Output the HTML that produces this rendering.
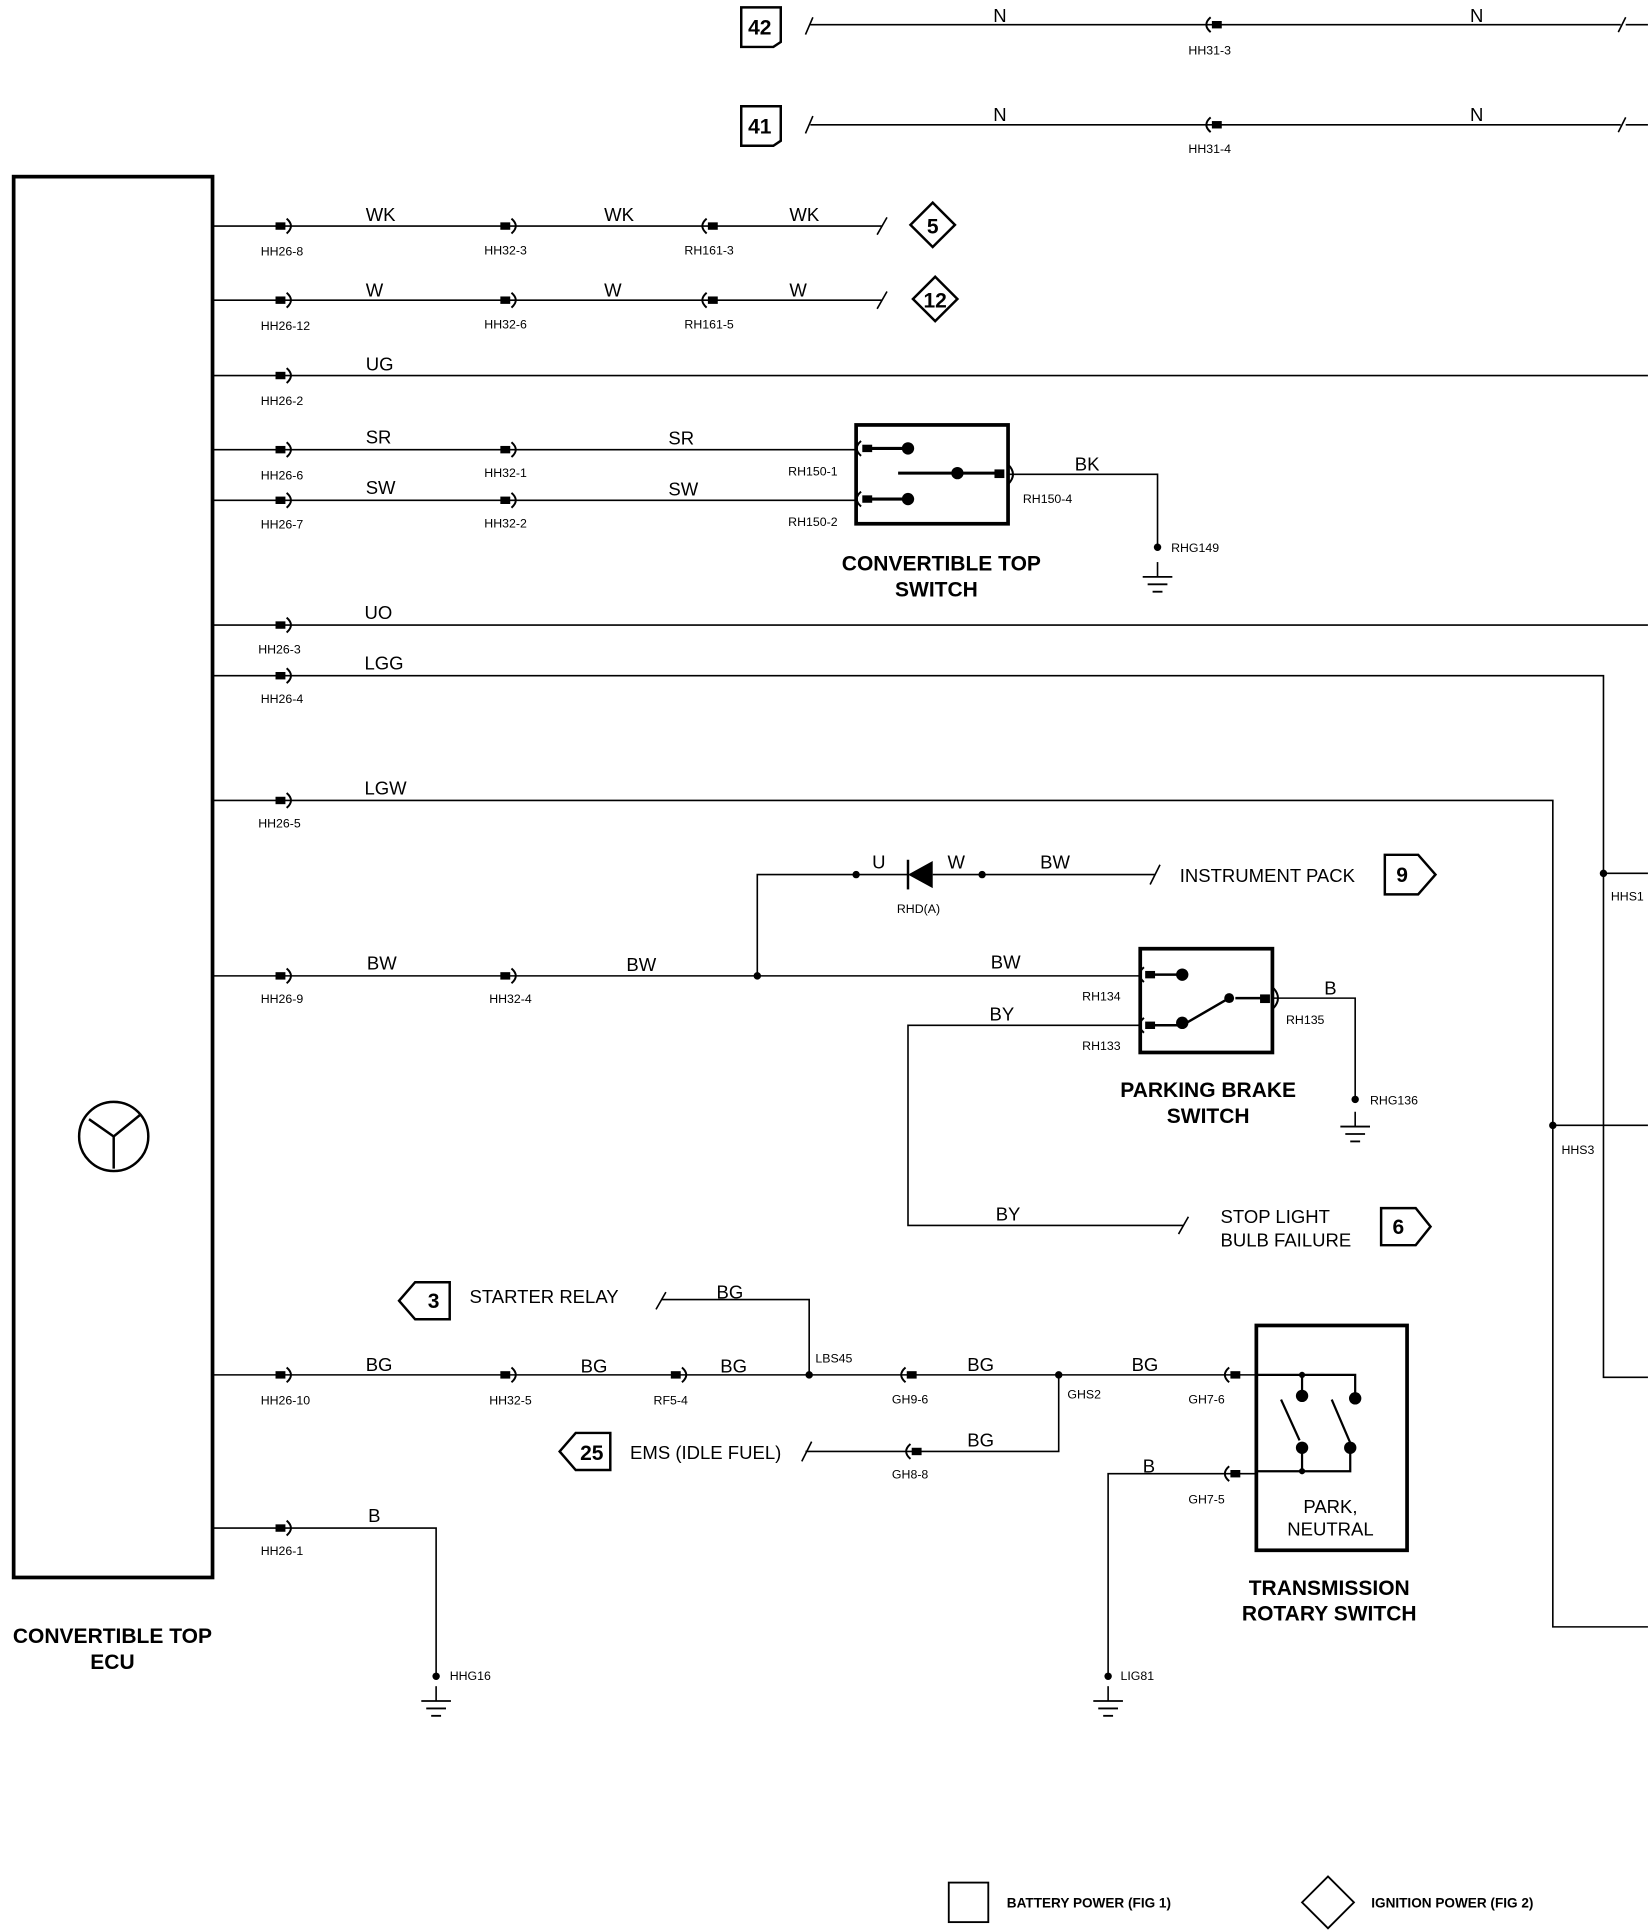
<!DOCTYPE html>
<html><head><meta charset="utf-8"><style>
html,body{margin:0;padding:0;background:#fff;}
svg{display:block;}
text{font-family:"Liberation Sans",sans-serif;fill:#000;}
.w{font-size:15px;}
.c{font-size:10px;}
.b{font-size:17px;font-weight:bold;}
.t{font-size:15px;}
</style></head><body>
<svg width="1648" height="1932" viewBox="0 0 1334 1564" xmlns="http://www.w3.org/2000/svg">
<defs>
<g id="m"><rect x="-9" y="-3" width="8" height="6" fill="#000"/><path d="M0,-6 Q7,0 0,6" fill="none" stroke="#000" stroke-width="1.6"/></g>
<g id="f"><path d="M0,-6 Q-7,0 0,6" fill="none" stroke="#000" stroke-width="1.6"/><rect x="1" y="-3" width="8" height="6" fill="#000"/></g>
<g id="g"><line x1="0" y1="0" x2="0" y2="12" stroke="#000" stroke-width="1.3"/><line x1="-12" y1="12" x2="12" y2="12" stroke="#000" stroke-width="1.5"/><line x1="-8" y1="18" x2="8" y2="18" stroke="#000" stroke-width="1.5"/><line x1="-4" y1="24" x2="4" y2="24" stroke="#000" stroke-width="1.5"/></g>
</defs>
<g stroke="#000" stroke-width="1.3" fill="none">
<!-- top rows -->
<path d="M652,28 L658,14 M656,20 H1312 M1310,26 L1316,14 M1316,20 H1334"/>
<path d="M652,108 L658,94 M656,101 H1312 M1310,107 L1316,95 M1316,101 H1334"/>
<path d="M600,6 H632 V34 L626,38 H600 Z" stroke-width="2"/>
<path d="M600,86 H632 V114 L626,118 H600 Z" stroke-width="2"/>
<!-- ECU -->
<rect x="11" y="143" width="161" height="1134" stroke-width="3"/>
<circle cx="92" cy="920" r="28" stroke-width="2"/>
<path d="M92,920 V946 M92,920 L72,906 M92,920 L114,902" stroke-width="2"/>
<!-- rows -->
<path d="M172,183 H714 M710,190 L718,176"/>
<path d="M172,243 H714 M710,250 L718,236"/>
<path d="M737,182 L755,164 L773,182 L755,200 Z" stroke-width="2"/>
<path d="M739,242 L757,224 L775,242 L757,260 Z" stroke-width="2"/>
<path d="M172,304 H1334"/>
<path d="M172,364 H693 M172,405 H693"/>
<rect x="693" y="344" width="123" height="80" stroke-width="3"/>
<path d="M700,363 H735 M700,404 H735 M727,383 H810" stroke-width="2.5"/>
<path d="M816,384 H937 V443"/>
<path d="M172,506 H1334"/>
<path d="M172,547 H1298 V1115 H1334 M1298,707 H1334"/>
<path d="M172,648 H1257 V1317 H1334 M1257,911 H1334"/>
<!-- BW -->
<path d="M172,790 H922 M613,790 V708 H735 M755,708 H935 M931,716 L939,700"/>
<path d="M1121,692 H1148 L1162,708 L1148,724 H1121 Z" stroke-width="2"/>
<rect x="923" y="768" width="107" height="84" stroke-width="3"/>
<path d="M930,789 H957 M930,830 H957 L995,808 M1000,808 H1025" stroke-width="2"/>
<path d="M1030,808 H1097 V890"/>
<path d="M922,830 H735 V992 H958 M954,999 L962,985"/>
<path d="M1118,978 H1146 L1158,993 L1146,1008 H1118 Z" stroke-width="2"/>
<!-- starter -->
<path d="M336,1038 H364 V1068 H336 L323,1053 Z" stroke-width="2"/>
<path d="M531,1060 L539,1046 M535,1052 H655 V1113"/>
<path d="M172,1113 H1017"/>
<path d="M857,1113 V1175 H652 M649,1183 L657,1167"/>
<path d="M466,1160 H494 V1190 H466 L453,1175 Z" stroke-width="2"/>
<rect x="1017" y="1073" width="122" height="182" stroke-width="3"/>
<path d="M1017,1113 H1097 V1130 M1054,1113 V1130 M1017,1191 H1093 V1171 M1054,1191 V1171 M1037,1133 L1052,1166 M1078,1133 L1093,1168" stroke-width="1.8"/>
<path d="M995,1193 H897 V1357 M995,1193 H1017"/>
<path d="M172,1237 H353 V1357"/>
<!-- legend -->
<rect x="768" y="1524" width="32" height="32" stroke-width="1.5"/>
<path d="M1054,1540 L1075,1519 L1096,1540 L1075,1561 Z" stroke-width="1.5"/>
</g>
<!-- diode -->
<path d="M755,697 V719 L735,708 Z" fill="#000"/>
<line x1="735" y1="696" x2="735" y2="720" stroke="#000" stroke-width="2"/>
<g fill="#000">
<circle cx="735" cy="363" r="5"/><circle cx="735" cy="404" r="5"/><circle cx="775" cy="383" r="5"/>
<rect x="805" y="380" width="8" height="7"/>
<circle cx="937" cy="443" r="3"/>
<circle cx="613" cy="790" r="3"/><circle cx="693" cy="708" r="3"/><circle cx="795" cy="708" r="3"/>
<circle cx="957" cy="789" r="5"/><circle cx="957" cy="828" r="5"/><circle cx="995" cy="808" r="4"/>
<rect x="1020" y="805" width="8" height="7"/>
<circle cx="1097" cy="890" r="3"/>
<circle cx="1298" cy="707" r="3"/><circle cx="1257" cy="911" r="3"/>
<circle cx="655" cy="1113" r="3"/><circle cx="857" cy="1113" r="3"/>
<circle cx="1054" cy="1113" r="2.5"/><circle cx="1054" cy="1191" r="2.5"/>
<circle cx="1054" cy="1130" r="5"/><circle cx="1097" cy="1132" r="5"/><circle cx="1054" cy="1172" r="5"/><circle cx="1093" cy="1172" r="5"/>
<circle cx="897" cy="1357" r="3"/><circle cx="353" cy="1357" r="3"/>
</g>
<use href="#f" x="980" y="20"/><use href="#f" x="980" y="101"/>
<use href="#m" x="232" y="183"/><use href="#m" x="414" y="183"/><use href="#f" x="572" y="183"/>
<use href="#m" x="232" y="243"/><use href="#m" x="414" y="243"/><use href="#f" x="572" y="243"/>
<use href="#m" x="232" y="304"/>
<use href="#m" x="232" y="364"/><use href="#m" x="414" y="364"/><use href="#f" x="697" y="363"/>
<use href="#m" x="232" y="405"/><use href="#m" x="414" y="405"/><use href="#f" x="697" y="404"/>
<use href="#m" x="232" y="506"/><use href="#m" x="232" y="547"/><use href="#m" x="232" y="648"/>
<use href="#m" x="232" y="790"/><use href="#m" x="414" y="790"/>
<use href="#f" x="926" y="789"/><use href="#f" x="926" y="830"/>
<use href="#m" x="232" y="1113"/><use href="#m" x="414" y="1113"/><use href="#m" x="552" y="1113"/>
<use href="#f" x="733" y="1113"/><use href="#f" x="737" y="1175"/>
<use href="#f" x="995" y="1113"/><use href="#f" x="995" y="1193"/>
<use href="#m" x="232" y="1237"/>
<use href="#g" x="937" y="455"/><use href="#g" x="1097" y="900"/><use href="#g" x="897" y="1365"/><use href="#g" x="353" y="1365"/>
<path d="M816,376 Q824,384 816,392" fill="none" stroke="#000" stroke-width="1.6"/>
<path d="M1031,800 Q1038,808 1031,816" fill="none" stroke="#000" stroke-width="1.6"/>
<!-- text -->
<g class="b">
<text x="615" y="28" text-anchor="middle">42</text><text x="615" y="108" text-anchor="middle">41</text>
<text x="755" y="189" text-anchor="middle">5</text><text x="757" y="249" text-anchor="middle">12</text>
<text x="1135" y="714" text-anchor="middle">9</text><text x="1132" y="999" text-anchor="middle">6</text>
<text x="351" y="1059" text-anchor="middle">3</text><text x="479" y="1182" text-anchor="middle">25</text>
<text x="762" y="462" text-anchor="middle">CONVERTIBLE TOP</text><text x="758" y="483" text-anchor="middle">SWITCH</text>
<text x="978" y="888" text-anchor="middle">PARKING BRAKE</text><text x="978" y="909" text-anchor="middle">SWITCH</text>
<text x="1076" y="1291" text-anchor="middle">TRANSMISSION</text><text x="1076" y="1312" text-anchor="middle">ROTARY SWITCH</text>
<text x="91" y="1330" text-anchor="middle">CONVERTIBLE TOP</text><text x="91" y="1351" text-anchor="middle">ECU</text>
</g>
<g class="w">
<text x="804" y="18">N</text><text x="1190" y="18">N</text><text x="804" y="98">N</text><text x="1190" y="98">N</text>
<text x="296" y="179">WK</text><text x="489" y="179">WK</text><text x="639" y="179">WK</text>
<text x="296" y="240">W</text><text x="489" y="240">W</text><text x="639" y="240">W</text>
<text x="296" y="300">UG</text>
<text x="296" y="359">SR</text><text x="541" y="360">SR</text>
<text x="296" y="400">SW</text><text x="541" y="401">SW</text>
<text x="870" y="381">BK</text>
<text x="295" y="501">UO</text><text x="295" y="542">LGG</text><text x="295" y="643">LGW</text>
<text x="706" y="703">U</text><text x="767" y="703">W</text><text x="842" y="703">BW</text>
<text x="297" y="785">BW</text><text x="507" y="786">BW</text><text x="802" y="784">BW</text>
<text x="1072" y="805">B</text><text x="801" y="826">BY</text><text x="806" y="988">BY</text>
<text x="580" y="1051">BG</text>
<text x="296" y="1110">BG</text><text x="470" y="1111">BG</text><text x="583" y="1111">BG</text><text x="783" y="1110">BG</text><text x="916" y="1110">BG</text>
<text x="783" y="1171">BG</text><text x="925" y="1192">B</text><text x="298" y="1232">B</text>
</g>
<g class="t">
<text x="955" y="714">INSTRUMENT PACK</text>
<text x="988" y="990">STOP LIGHT</text><text x="988" y="1009">BULB FAILURE</text>
<text x="380" y="1055">STARTER RELAY</text>
<text x="510" y="1181">EMS (IDLE FUEL)</text>
<text x="1077" y="1225" text-anchor="middle">PARK,</text><text x="1077" y="1243" text-anchor="middle">NEUTRAL</text>
</g>
<g class="c">
<text x="962" y="44">HH31-3</text><text x="962" y="124">HH31-4</text>
<text x="211" y="207">HH26-8</text><text x="392" y="206">HH32-3</text><text x="554" y="206">RH161-3</text>
<text x="211" y="267">HH26-12</text><text x="392" y="266">HH32-6</text><text x="554" y="266">RH161-5</text>
<text x="211" y="328">HH26-2</text>
<text x="211" y="388">HH26-6</text><text x="392" y="386">HH32-1</text><text x="638" y="385">RH150-1</text>
<text x="211" y="428">HH26-7</text><text x="392" y="427">HH32-2</text><text x="638" y="426">RH150-2</text>
<text x="828" y="407">RH150-4</text><text x="948" y="447">RHG149</text>
<text x="209" y="529">HH26-3</text><text x="211" y="569">HH26-4</text><text x="209" y="670">HH26-5</text>
<text x="1304" y="729">HHS1</text><text x="726" y="739">RHD(A)</text>
<text x="211" y="812">HH26-9</text><text x="396" y="812">HH32-4</text>
<text x="876" y="810">RH134</text><text x="1041" y="829">RH135</text><text x="876" y="850">RH133</text>
<text x="1109" y="894">RHG136</text><text x="1264" y="934">HHS3</text>
<text x="660" y="1103">LBS45</text>
<text x="211" y="1137">HH26-10</text><text x="396" y="1137">HH32-5</text><text x="529" y="1137">RF5-4</text>
<text x="722" y="1136">GH9-6</text><text x="864" y="1132">GHS2</text><text x="962" y="1136">GH7-6</text>
<text x="722" y="1197">GH8-8</text><text x="962" y="1217">GH7-5</text>
<text x="211" y="1259">HH26-1</text><text x="364" y="1360">HHG16</text><text x="907" y="1360">LIG81</text>
</g>
<text x="815" y="1544" style="font-size:11px;font-weight:bold">BATTERY POWER (FIG 1)</text>
<text x="1110" y="1544" style="font-size:11px;font-weight:bold">IGNITION POWER (FIG 2)</text>
</svg>
</body></html>
